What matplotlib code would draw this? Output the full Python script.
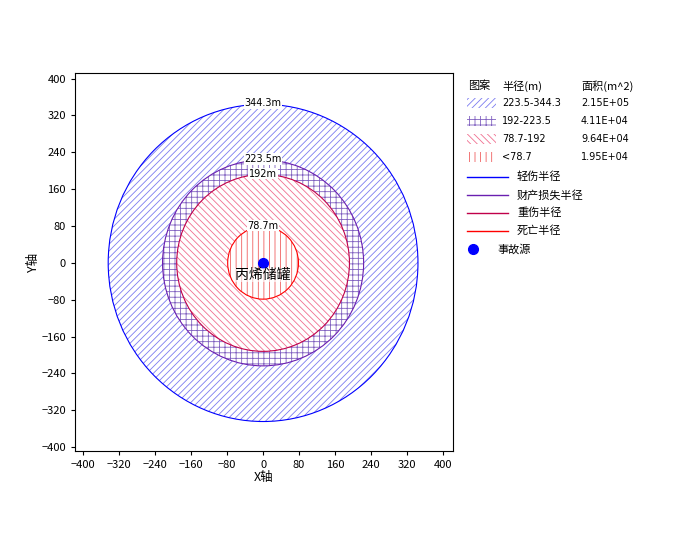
import matplotlib
matplotlib.use('Agg')
import matplotlib.pyplot as plt
from matplotlib.patches import Circle, Annulus, Rectangle

plt.rcParams['font.family'] = ['Noto Sans CJK SC', 'DejaVu Sans']
plt.rcParams['hatch.linewidth'] = 0.6

# ── data ──────────────────────────────────────────────────────────────────────
radii      = [344.3, 223.5, 192.0, 78.7]
ring_text  = ['344.3m', '223.5m', '192m', '78.7m']
ranges     = ['223.5-344.3', '192-223.5', '78.7-192', '<78.7']
areas      = ['2.15E+05', '4.11E+04', '9.64E+04', '1.95E+04']
line_names = ['轻伤半径', '财产损失半径', '重伤半径', '死亡半径']
source_xy  = (0, 0)
source_name = '丙烯储罐'
ticks = list(range(-400, 401, 80))

edge_cols  = ['#0000ff', '#6a1fb0', '#c0004a', '#ff0000']
hatch_cols = ['#7b7bf0', '#8060c0', '#f07090', '#f06060']
hatches    = ['/////', '+++', '\\\\\\\\\\', '|||']

fig = plt.figure(figsize=(6.76, 5.58), dpi=100)
ax = fig.add_axes([0.111, 0.192, 0.559, 0.677])

for i, r in enumerate(radii):
    inner = radii[i + 1] if i + 1 < len(radii) else 0
    if inner > 0:
        p = Annulus(source_xy, r, r - inner, facecolor='white',
                    edgecolor=hatch_cols[i], hatch=hatches[i], linewidth=0)
    else:
        p = Circle(source_xy, r, facecolor='white',
                   edgecolor=hatch_cols[i], hatch=hatches[i], linewidth=0)
    ax.add_patch(p)
for i, r in enumerate(radii):
    ax.add_patch(Circle(source_xy, r, fill=False, edgecolor=edge_cols[i], linewidth=0.8))
    ax.text(0, r + 2, ring_text[i], ha='center', va='center', fontsize=7,
            family='DejaVu Sans', bbox=dict(facecolor='white', edgecolor='none', pad=0.5))

ax.plot(*source_xy, 'o', color='#0000ff', markersize=7)
ax.text(0, -26, source_name, ha='center', va='center', fontsize=10,
        bbox=dict(facecolor='white', edgecolor='none', pad=0.2, alpha=0.6))

ax.set_xlim(-418, 422)
ax.set_ylim(-408, 412)
ax.set_xticks(ticks)
ax.set_yticks(ticks)
ax.tick_params(labelsize=8, length=3)
ax.set_xlabel('X轴', fontsize=9, labelpad=1)
ax.set_ylabel('Y轴', fontsize=9, labelpad=1)

# ── legend drawn by hand ──────────────────────────────────────────────────────
lg = fig.add_axes([465 / 676, 1 - 260 / 558, 205 / 676, 185 / 558])
lg.set_xlim(465, 670)
lg.set_ylim(260, 75)
lg.axis('off')
fs = 8
lg.text(468, 86, '图案', fontsize=fs, va='center')
lg.text(502, 86, '半径(m)', fontsize=fs, va='center')
lg.text(581, 86, '面积(m^2)', fontsize=fs, va='center')
for i in range(4):
    y = 103 + 18 * i
    lg.add_patch(Rectangle((467, y - 5), 29, 10, facecolor='white',
                           edgecolor=hatch_cols[i], hatch=hatches[i], linewidth=0))
    lg.text(502, y, ranges[i], fontsize=7, va='center', family='DejaVu Sans')
    lg.text(581, y, areas[i], fontsize=7, va='center', family='DejaVu Sans')
for i in range(4):
    y = 177 + 18 * i
    lg.plot([467, 508], [y, y], color=edge_cols[i], linewidth=1)
    lg.text(517, y, line_names[i], fontsize=fs, va='center')
lg.plot(473, 249, 'o', color='#0000ff', markersize=7)
lg.text(497, 249, '事故源', fontsize=fs, va='center')

fig.savefig('out.png', dpi=100)
